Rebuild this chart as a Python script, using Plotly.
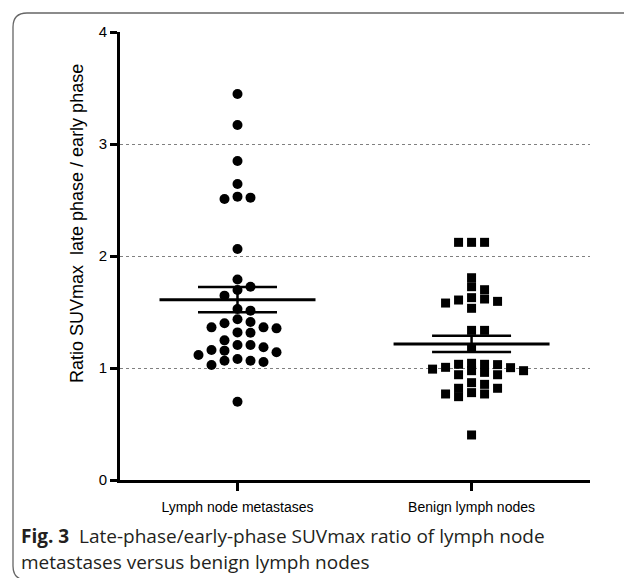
import plotly.graph_objects as go

# ---------------- data ----------------
categories = ["Lymph node metastases", "Benign lymph nodes"]

metastases = [3.446, 3.17, 2.848, 2.643, 2.53, 2.521, 2.509, 2.0625, 1.79,
              1.726, 1.696, 1.646, 1.527, 1.512, 1.435, 1.411, 1.399, 1.363,
              1.363, 1.354, 1.318, 1.315, 1.247, 1.205, 1.205, 1.185, 1.161,
              1.155, 1.140, 1.116, 1.080, 1.065, 1.065, 1.054, 1.027, 0.699]

benign = [2.122, 2.122, 2.122, 1.806, 1.726, 1.699, 1.628, 1.616, 1.607,
          1.595, 1.580, 1.533, 1.336, 1.336, 1.18, 1.042, 1.033, 1.033,
          1.03, 1.006, 1.003, 0.99, 0.976, 0.976, 0.961, 0.94, 0.94, 0.869,
          0.854, 0.819, 0.819, 0.78, 0.768, 0.768, 0.744, 0.402]

group_means = [1.610, 1.215]
group_sems = [0.113, 0.073]

y_ticks = [0, 1, 2, 3, 4]
y_title = "Ratio SUVmax\u00a0\u00a0late phase / early phase"
caption_line1 = "<b>Fig. 3</b>\u00a0\u00a0Late-phase/early-phase SUVmax ratio of lymph node"
caption_line2 = "metastases versus benign lymph nodes"

# ---------------- geometry ----------------
W, H = 624, 578
L, R, T, B = 120, 34, 32, 98
PW, PH = W - L - R, H - T - B
x_range = [0.498, 2.506]
y_range = [0, 4]
px_per_x = PW / (x_range[1] - x_range[0])
px_per_y = PH / (y_range[1] - y_range[0])

SLOT_PX = 13.0
MEAN_HALF_PX = 78.0
CAP_HALF_PX = 39.5
AXIS_FONT = "Liberation Sans, Arial, sans-serif"


def swarm_offsets(values, slot_px, min_gap_px):
    """Simple column beeswarm: each point goes to the nearest free slot."""
    thr = min_gap_px / px_per_y
    order = sorted(range(len(values)), key=lambda i: -values[i])
    cand = [0]
    for k in range(1, 15):
        cand += [k, -k]
    placed = {}
    out = [0.0] * len(values)
    for i in order:
        v = values[i]
        for k in cand:
            if all(abs(v - u) >= thr for u in placed.get(k, [])):
                placed.setdefault(k, []).append(v)
                out[i] = k * slot_px / px_per_x
                break
    return out


fig = go.Figure()

groups = [(metastases, "circle", 10, 10.0), (benign, "square", 9, 6.5)]
for gi, (vals, sym, size, gap) in enumerate(groups):
    center = gi + 1
    offs = swarm_offsets(vals, SLOT_PX, gap)
    fig.add_trace(go.Scatter(
        x=[center + o for o in offs], y=vals, mode="markers",
        marker=dict(symbol=sym, size=size, color="black", line=dict(width=0)),
        showlegend=False, hoverinfo="y"))

    m, s = group_means[gi], group_sems[gi]
    mh = MEAN_HALF_PX / px_per_x
    ch = CAP_HALF_PX / px_per_x
    fig.add_trace(go.Scatter(x=[center - mh, center + mh], y=[m, m], mode="lines",
                             line=dict(color="black", width=3), showlegend=False,
                             hoverinfo="skip"))
    fig.add_trace(go.Scatter(
        x=[center - ch, center + ch, None, center - ch, center + ch, None, center, center],
        y=[m + s, m + s, None, m - s, m - s, None, m - s, m + s],
        mode="lines", line=dict(color="black", width=2.5), showlegend=False,
        hoverinfo="skip"))

fig.update_xaxes(
    range=x_range, tickmode="array", tickvals=[1, 2], ticktext=categories,
    showline=True, linecolor="black", linewidth=3, ticks="outside",
    ticklen=8, tickwidth=2.5, tickcolor="black", showgrid=False, zeroline=False,
    tickfont=dict(family=AXIS_FONT, size=14, color="black"),
    ticklabelstandoff=4)

fig.update_yaxes(
    range=y_range, tickmode="array", tickvals=y_ticks,
    ticktext=[str(t) for t in y_ticks],
    showline=True, linecolor="black", linewidth=3, ticks="outside",
    ticklen=7, tickwidth=2.5, tickcolor="black",
    showgrid=True, gridcolor="#808080", gridwidth=1, griddash="dot",
    zeroline=False,
    tickfont=dict(family=AXIS_FONT, size=15, color="black"))


def px2paper(px, py):
    return (px - L) / PW, (T + PH - py) / PH


# rounded border frame
pts = [(632, 13), (27, 13), (13, 13), (13, 27), (13, 566), (13, 580), (27, 580), (632, 580)]
P = [px2paper(*p) for p in pts]
path = ("M {0[0]},{0[1]} L {1[0]},{1[1]} Q {2[0]},{2[1]} {3[0]},{3[1]} "
        "L {4[0]},{4[1]} Q {5[0]},{5[1]} {6[0]},{6[1]} L {7[0]},{7[1]}").format(*P)
fig.add_shape(type="path", path=path, xref="paper", yref="paper",
              line=dict(color="#666666", width=1.3), layer="below")

# y-axis title
tx, ty = px2paper(65, 224)
fig.add_annotation(x=tx, y=ty, xref="paper", yref="paper", text=y_title,
                   textangle=-90, showarrow=False,
                   font=dict(family=AXIS_FONT, size=18, color="black"))

# caption
cx1, cy1 = px2paper(19, 536)
cx2, cy2 = px2paper(19, 562)
for (cx, cy, txt) in [(cx1, cy1, caption_line1), (cx2, cy2, caption_line2)]:
    fig.add_annotation(x=cx, y=cy, xref="paper", yref="paper", text=txt,
                       xanchor="left", yanchor="middle", showarrow=False,
                       font=dict(family="Open Sans", size=19, color="#231f20"))

fig.update_layout(
    width=W, height=H, margin=dict(l=L, r=R, t=T, b=B, autoexpand=False),
    paper_bgcolor="white", plot_bgcolor="white", showlegend=False)

fig.write_html("out.html", config={"displayModeBar": False},
               post_script="document.body.style.margin='0';")
